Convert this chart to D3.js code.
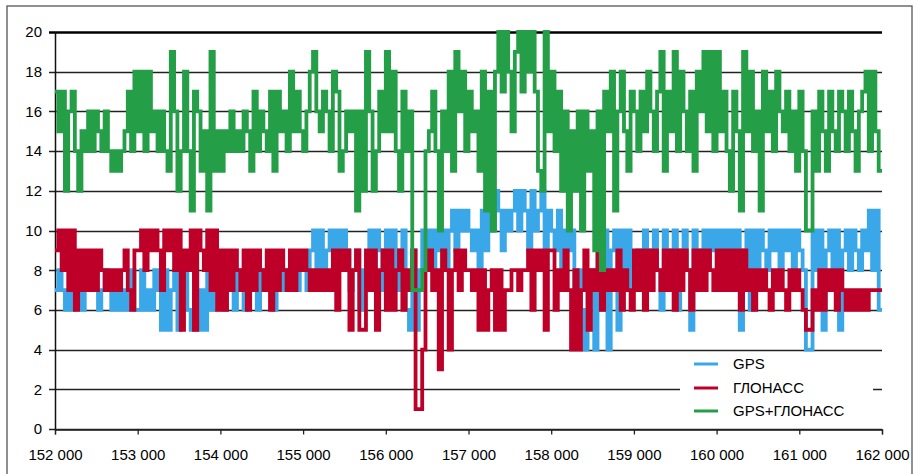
<!DOCTYPE html>
<html>
<head>
<meta charset="utf-8">
<script src="https://cdn.jsdelivr.net/npm/d3@7"></script>
<style>
  body { margin: 0; background: #fff; }
  svg text { font-family: 'Liberation Sans', Arial, sans-serif; fill: #000; }
</style>
</head>
<body>
<div id="chart"></div>
<script>
// время начала и шаг отсчётов, с
const tStart = 152000;
const tStep = 40;
const xTicks = [152000, 153000, 154000, 155000, 156000, 157000, 158000, 159000, 160000, 161000, 162000];
const yTicks = [0, 2, 4, 6, 8, 10, 12, 14, 16, 18, 20];
const seriesNames = ['GPS', 'ГЛОНАСС', 'GPS+ГЛОНАСС'];

// число спутников GPS
const gps = [
  7,8,7,6,7,6,7,8,6,7,8,7,7,6,7,8,7,6,7,6,7,6,7,8,6,
  6,8,6,7,6,8,7,5,8,5,7,8,5,7,8,6,5,8,5,7,5,8,6,7,8,
  7,6,8,7,6,8,7,6,7,8,7,6,8,7,7,8,6,7,8,7,8,7,8,7,8,
  8,7,9,10,8,10,7,9,10,7,10,8,10,9,7,8,9,6,8,7,10,8,10,9,7,
  10,8,10,7,9,10,6,5,9,5,8,10,9,10,8,10,9,10,8,10,11,9,11,10,11,
  10,9,10,8,11,9,11,10,12,11,9,11,10,11,12,10,12,11,9,12,10,11,12,9,11,
  10,9,11,8,10,9,10,7,8,6,4,7,8,4,9,6,10,4,9,10,5,10,8,10,7,
  8,9,8,10,8,9,10,8,6,10,8,9,10,6,9,10,8,5,10,8,9,10,8,10,9,
  10,8,10,9,10,8,10,5,9,10,6,10,8,10,9,8,10,9,10,8,10,9,10,8,10,
  9,8,4,4,10,8,10,5,9,10,8,10,5,9,10,8,10,9,8,10,9,11,8,11,6
];

// число спутников ГЛОНАСС
const glonass = [
  9,10,8,10,7,10,6,9,7,9,7,9,7,9,8,7,8,7,8,7,8,9,7,6,9,
  9,10,8,10,9,10,9,7,10,9,10,8,10,5,9,8,10,5,10,9,8,10,7,10,6,
  9,6,9,7,9,8,7,9,6,9,7,9,8,7,9,6,9,7,9,8,7,9,7,9,8,
  9,8,7,8,7,8,7,8,7,9,6,9,8,9,5,8,9,5,5,9,7,9,5,8,9,
  6,9,6,8,9,6,8,7,9,1,1,4,8,9,7,8,3,9,8,4,8,9,7,9,8,
  8,7,8,5,8,5,7,8,5,8,5,7,7,8,8,7,8,8,9,6,9,8,9,5,9,
  9,6,8,7,9,7,4,8,4,7,9,5,8,7,9,6,8,7,8,7,9,6,8,7,6,
  9,7,9,6,9,7,9,8,7,9,7,9,6,9,7,9,8,6,9,7,9,7,9,8,7,
  9,7,9,7,9,7,9,6,9,7,8,6,8,7,8,7,6,8,7,8,7,6,8,7,8,
  7,6,5,5,7,6,8,6,8,7,8,6,8,7,6,7,6,7,6,7,6,7,7,7,7
];

// GPS+ГЛОНАСС
const combined = [
  17,15,17,12,16,17,14,12,15,14,16,14,16,15,14,16,14,13,14,13,14,15,17,14,18,
  15,18,14,18,15,16,14,16,14,13,19,16,12,14,18,14,11,17,16,13,15,11,19,13,15,
  13,15,14,16,14,15,14,16,15,13,17,14,16,15,14,17,13,17,15,16,14,18,15,17,15,
  14,16,18,19,16,15,17,16,14,18,17,13,14,16,15,16,11,16,12,19,16,12,14,17,15,
  19,15,18,14,12,17,14,16,7,7,7,8,14,15,17,14,10,16,14,18,13,19,16,18,14,
  17,15,16,13,18,11,17,10,18,20,17,20,18,15,19,20,17,20,18,20,17,13,12,20,15,
  18,14,17,12,16,10,15,12,16,10,16,13,15,9,16,8,17,15,18,11,16,18,15,13,17,
  16,14,17,15,18,16,14,17,19,13,17,15,19,14,18,16,14,17,13,18,16,19,15,19,14,
  19,15,17,14,12,17,15,11,19,15,18,14,16,11,18,15,17,14,18,16,15,17,14,16,13,
  17,14,10,10,16,13,17,15,13,17,15,14,17,16,14,17,15,13,16,17,18,14,18,15,13
];

const colors = ['#3aa8e8', '#be0028', '#249e47'];

const [W, H] = [918, 474];
const svg = d3.select('#chart').append('svg')
  .attr('width', W).attr('height', H);

// рамка
svg.append('rect')
  .attr('x', 7).attr('y', 6).attr('width', 905).attr('height', 480)
  .attr('fill', 'none').attr('stroke', '#555').attr('stroke-width', 1.3);

const x = d3.scaleLinear().domain([152000, 162000]).range([55, 882]);
const y = d3.scaleLinear().domain([0, 20]).range([429, 32]);

// сетка
svg.append('g').selectAll('line')
  .data(yTicks).join('line')
  .attr('x1', 49).attr('x2', x(162000))
  .attr('y1', d => Math.round(y(d)) + 0.5).attr('y2', d => Math.round(y(d)) + 0.5)
  .attr('stroke', d => d === 20 ? '#000' : '#222')
  .attr('stroke-width', d => d === 20 ? 2.5 : 1.3);

// ось X
const xAxis = d3.axisBottom(x).tickValues(xTicks).tickSize(5).tickPadding(15)
  .tickFormat(d => d3.format(',')(d).replace(',', ' '));
svg.append('g')
  .attr('transform', `translate(0, ${Math.round(y(0)) + 0.5})`)
  .call(xAxis)
  .call(g => g.select('.domain').attr('stroke', '#222').attr('stroke-width', 1.3))
  .call(g => g.selectAll('.tick line').attr('stroke', '#222').attr('stroke-width', 1.3))
  .call(g => g.selectAll('.tick text').attr('font-size', '15px')
    .style('font-family', "'Liberation Sans', Arial, sans-serif").attr('fill', '#000'));

// ось Y
const yAxis = d3.axisLeft(y).tickValues(yTicks).tickSize(0).tickPadding(13);
svg.append('g')
  .attr('transform', `translate(${x(152000)}, 0)`)
  .call(yAxis)
  .call(g => g.select('.domain').attr('stroke', '#111').attr('stroke-width', 1.5))
  .call(g => g.selectAll('.tick text').attr('font-size', '15px')
    .style('font-family', "'Liberation Sans', Arial, sans-serif").attr('fill', '#000'));

// линии
const series = [gps, glonass, combined];
const line = d3.line()
  .x(d => x(d.t)).y(d => y(d.v))
  .curve(d3.curveStepAfter);

series.forEach((vals, k) => {
  const pts = vals.map((v, i) => ({ t: tStart + i * tStep, v }));
  pts.push({ t: tStart + vals.length * tStep, v: vals[vals.length - 1] });
  svg.append('path')
    .datum(pts)
    .attr('d', line)
    .attr('fill', 'none')
    .attr('stroke', colors[k])
    .attr('stroke-width', 3.8);
});

// легенда
const legend = svg.append('g');
legend.append('rect')
  .attr('x', 680).attr('y', 353).attr('width', 193).attr('height', 70)
  .attr('fill', '#fff');
const rows = legend.selectAll('g.row')
  .data(seriesNames).join('g')
  .attr('class', 'row')
  .attr('transform', (d, i) => `translate(0, ${[364, 388, 411][i]})`);
rows.append('line')
  .attr('x1', 694).attr('x2', 718)
  .attr('stroke', (d, i) => colors[i]).attr('stroke-width', 3);
rows.append('text')
  .attr('x', 733).attr('dy', '0.35em')
  .attr('font-size', '15px')
  .text(d => d);
</script>
</body>
</html>
